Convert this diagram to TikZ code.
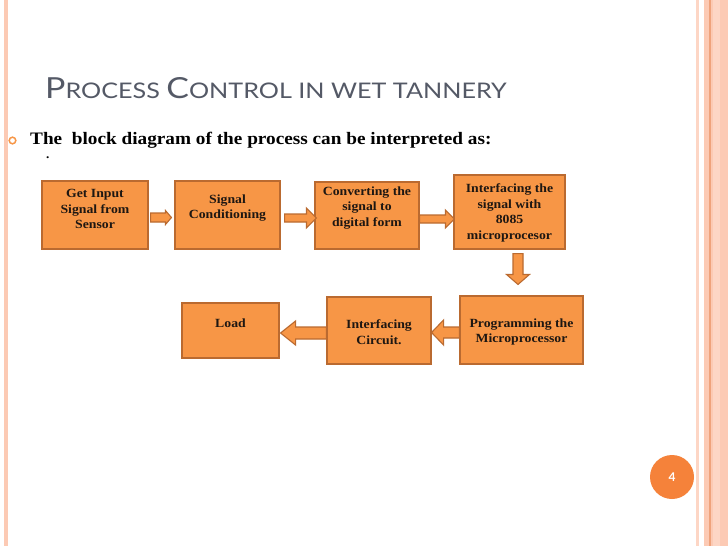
\documentclass[tikz,border=0pt]{standalone}
\usepackage{fontspec}
\setmainfont{Liberation Serif}
\newfontfamily\bodyfont{Liberation Serif}[FakeStretch=1.1]
\newfontfamily\titlefont{Lato}[FakeStretch=1.17]
\newfontfamily\numfont{Lato}
\usetikzlibrary{calc}
\definecolor{boxfill}{HTML}{F79646}
\definecolor{boxedge}{HTML}{BA6A30}
\definecolor{titlegray}{HTML}{545966}
\definecolor{peach}{HTML}{FCCAB4}
\definecolor{peachlight}{HTML}{FDD6C5}
\definecolor{peachdark}{HTML}{EFA37C}
\definecolor{pagenum}{HTML}{F5823A}
\definecolor{inktext}{HTML}{1E1712}
\tikzset{
  blockbox/.style={draw=boxedge, fill=boxfill, line width=1.1pt, inner sep=0pt},
  boxtext/.style={font=\bodyfont\bfseries\fontsize{12.5}{15.5}\selectfont, text=inktext, align=center, inner sep=0pt},
  blockarrow/.style={draw=boxedge, fill=boxfill, line width=1.1pt, line join=miter},
}
% right-pointing block arrow: #1 tail, #2 tip, #3 shaft half width, #4 head half width, #5 head length
\newcommand\arrR[5]{\draw[blockarrow] let \p1=(#1), \p2=(#2) in
  (\x1,{\y1+#3}) -- ({\x2-#5},{\y1+#3}) -- ({\x2-#5},{\y1+#4}) -- (\x2,\y1) --
  ({\x2-#5},{\y1-#4}) -- ({\x2-#5},{\y1-#3}) -- (\x1,{\y1-#3}) -- cycle;}
\newcommand\arrL[5]{\draw[blockarrow] let \p1=(#1), \p2=(#2) in
  (\x1,{\y1+#3}) -- ({\x2+#5},{\y1+#3}) -- ({\x2+#5},{\y1+#4}) -- (\x2,\y1) --
  ({\x2+#5},{\y1-#4}) -- ({\x2+#5},{\y1-#3}) -- (\x1,{\y1-#3}) -- cycle;}
\newcommand\arrD[5]{\draw[blockarrow] let \p1=(#1), \p2=(#2) in
  ({\x1+#3},\y1) -- ({\x1+#3},{\y2+#5}) -- ({\x1+#4},{\y2+#5}) -- (\x1,\y2) --
  ({\x1-#4},{\y2+#5}) -- ({\x1-#3},{\y2+#5}) -- ({\x1-#3},\y1) -- cycle;}
\begin{document}
\begin{tikzpicture}[x=1pt,y=-1pt]
\fill[white] (0,0) rectangle (728,546);
\useasboundingbox (0,0) rectangle (728,546);
% borders
\fill[peach] (4,0) rectangle (7.5,546);
\fill[peachlight] (696,0) rectangle (699,546);
\fill[peach] (704,0) rectangle (728,546);
\fill[peachlight] (713,0) rectangle (720,546);
\fill[peachdark] (709,0) rectangle (710.5,546);
% title
\node[anchor=base west, inner sep=0pt, text=titlegray] (title) at (45,98)
  {\titlefont\fontsize{29}{29}\selectfont P\fontsize{21.5}{21.5}\selectfont ROCESS
   \fontsize{29}{29}\selectfont C\fontsize{21.5}{21.5}\selectfont ONTROL IN WET TANNERY};
% bullet
\draw[boxfill, line width=1.5pt] (12.5,140.5) circle (3.3);
\node[anchor=base west, inner sep=0pt, text=black] (intro) at (30,144)
  {\bodyfont\bfseries\fontsize{17.5}{20}\selectfont The\ \ block diagram of the process can be interpreted as:};
\node[anchor=base west, inner sep=0pt, text=black] (dot) at (46,158)
  {\bodyfont\bfseries\fontsize{12}{12}\selectfont .};
% boxes
\node[blockbox, minimum width=106pt, minimum height=68pt] (b1) at (95,215) {};
\node[blockbox, minimum width=105pt, minimum height=68pt] (b2) at (227.5,215) {};
\node[blockbox, minimum width=104pt, minimum height=67pt] (b3) at (367,215.5) {};
\node[blockbox, minimum width=111pt, minimum height=74pt] (b4) at (509.5,212) {};
\node[blockbox, minimum width=123pt, minimum height=68pt] (b5) at (521.5,330) {};
\node[blockbox, minimum width=104pt, minimum height=67pt] (b6) at (379,330.5) {};
\node[blockbox, minimum width=97pt, minimum height=55pt] (b7) at (230.5,330.5) {};
% box texts
\node[boxtext] (t1) at ($(b1.center)+(0,-6)$) {Get Input\\Signal from\\Sensor};
\node[boxtext] (t2) at ($(b2.center)+(0,-7)$) {Signal\\Conditioning};
\node[boxtext] (t3) at ($(b3.center)+(0,-7.5)$) {Converting the\\signal to\\digital form};
\node[boxtext] (t4) at ($(b4.center)+(0,1)$) {Interfacing the\\signal with\\8085\\microprocesor};
\node[boxtext] (t5) at ($(b5.center)+(0,2)$) {Programming the\\Microprocessor};
\node[boxtext] (t6) at ($(b6.center)+(0,1.5)$) {Interfacing\\Circuit.};
\node[boxtext] (t7) at ($(b7.center)+(0,-7.5)$) {Load};
% arrows
\arrR{$(b1.east)+(2,2.5)$}{$(b2.west)+(-3,2.5)$}{4.5pt}{7pt}{6pt}
\arrR{$(b2.east)+(4,3)$}{$(b3.west)+(2,3)$}{4pt}{10pt}{10pt}
\arrR{$(b3.east)+(0,3.5)$}{$(b4.west)+(1,3.5)$}{4pt}{9pt}{9pt}
\arrD{$(b4.south)+(8.5,4)$}{$(b5.north)+(0,-11)$}{5pt}{11.5pt}{10pt}
\arrL{$(b5.west)+(0,2.5)$}{$(b6.east)+(0,2.5)$}{5.5pt}{12.5pt}{12pt}
\arrL{$(b6.west)+(0,2.5)$}{$(b7.east)+(1,2.5)$}{6pt}{12pt}{15pt}
% page number
\node[circle, fill=pagenum, minimum size=44pt, inner sep=0pt, text=white,
  font=\numfont\bfseries\fontsize{12}{12}\selectfont] (page) at (672,477) {4};
\end{tikzpicture}
\end{document}
